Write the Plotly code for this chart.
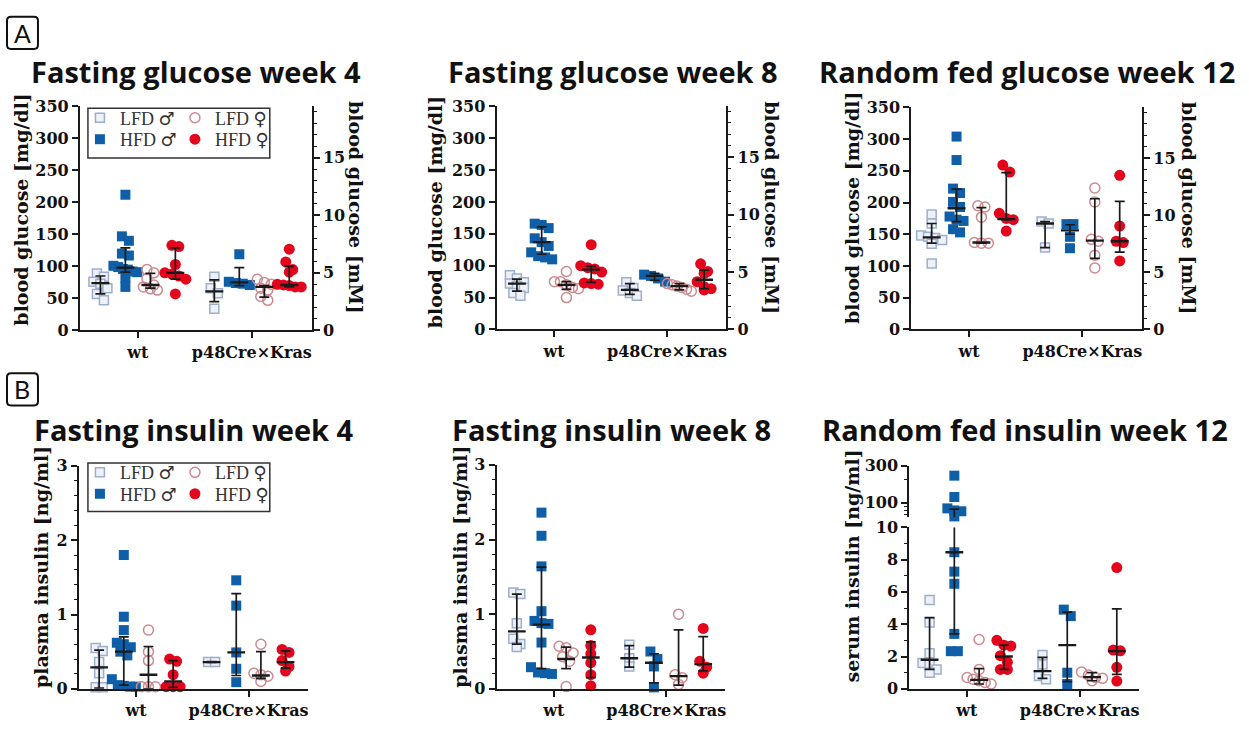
import numpy as np
import plotly.graph_objects as go

W, H = 1249, 731

GENOTYPES = ["wt", "p48Cre×Kras"]
GROUPS = ["LFD ♂", "HFD ♂", "LFD ♀", "HFD ♀"]
MGDL_PER_MM = 18.0

# ---------------- Fasting glucose week 4 [mg/dl] ----------------
glu4_wt_LFDm = [89, 84, 76, 73, 66, 57, 47]
glu4_wt_HFDm = [212, 147, 140, 120, 117, 101, 99, 96, 95, 92, 91, 82, 68]
glu4_wt_LFDf = [95, 90, 81, 71, 68, 65, 63]
glu4_wt_HFDf = [133, 131, 103, 90, 88, 85, 80, 57]
glu4_kc_LFDm = [84, 66, 58, 34]
glu4_kc_HFDm = [119, 76, 74, 73, 71]
glu4_kc_LFDf = [80, 75, 72, 66, 63, 53, 47]
glu4_kc_HFDf = [127, 107, 95, 91, 72, 71, 70, 68, 68]
glu4_mid = [74, 98, 71, 90, 61, 75, 68, 71]
glu4_low = [57, 91, 66, 80, 45, 70, 52, 68]
glu4_high = [85, 129, 89, 129, 79, 98, 70, 100]

# ---------------- Fasting glucose week 8 [mg/dl] ----------------
glu8_wt_LFDm = [85, 80, 74, 72, 68, 65, 57, 53]
glu8_wt_HFDm = [166, 164, 159, 143, 137, 131, 121, 115, 113, 110]
glu8_wt_LFDf = [91, 75, 75, 70, 66, 64, 50]
glu8_wt_HFDf = [133, 100, 97, 95, 90, 73, 72, 71]
glu8_kc_LFDm = [74, 65, 61, 57, 53]
glu8_kc_HFDm = [86, 84, 80, 75]
glu8_kc_LFDf = [72, 70, 68, 66, 63, 60]
glu8_kc_HFDf = [103, 91, 88, 75, 67, 64, 62]
glu8_mid = [72, 137, 70, 94, 62, 84, 68, 78]
glu8_low = [60, 118, 63, 74, 55, 77, 62, 64]
glu8_high = [79, 161, 75, 99, 72, 88, 72, 93]

# ---------------- Random fed glucose week 12 [mg/dl] ----------------
glu12_wt_LFDm = [181, 167, 148, 146, 144, 141, 135, 104]
glu12_wt_HFDm = [304, 267, 222, 215, 201, 193, 178, 173, 171, 158, 153]
glu12_wt_LFDf = [195, 193, 177, 137, 136, 136]
glu12_wt_HFDf = [259, 248, 183, 175, 173, 155]
glu12_kc_LFDm = [170, 167, 129]
glu12_kc_HFDm = [166, 166, 146, 128]
glu12_kc_LFDf = [223, 201, 142, 139, 117, 97]
glu12_kc_HFDf = [243, 163, 139, 137, 108]
glu12_mid = [145, 191, 137, 174, 167, 156, 140, 139]
glu12_low = [136, 170, 136, 173, 129, 150, 112, 122]
glu12_high = [167, 221, 192, 247, 170, 165, 206, 202]

# ---------------- Fasting insulin week 4 [ng/ml] ----------------
ins4_wt_LFDm = [0.55, 0.51, 0.36, 0.21, 0.02, 0.02]
ins4_wt_HFDm = [1.80, 0.97, 0.79, 0.62, 0.60, 0.56, 0.50, 0.45, 0.13, 0.05, 0.04, 0.03, 0.03]
ins4_wt_LFDf = [0.79, 0.50, 0.38, 0.03, 0.03, 0.03]
ins4_wt_HFDf = [0.40, 0.37, 0.19, 0.03, 0.03, 0.03]
ins4_kc_LFDm = [0.36, 0.36]
ins4_kc_HFDm = [1.46, 1.12, 0.49, 0.27, 0.09]
ins4_kc_LFDf = [0.60, 0.21, 0.19, 0.17, 0.10]
ins4_kc_HFDf = [0.53, 0.49, 0.38, 0.30, 0.24]
ins4_mid = [0.29, 0.50, 0.19, 0.10, 0.36, 0.49, 0.18, 0.36]
ins4_low = [0.01, 0.05, 0.00, 0.02, 0.355, 0.18, 0.14, 0.28]
ins4_high = [0.52, 0.70, 0.57, 0.38, 0.365, 1.28, 0.50, 0.51]

# ---------------- Fasting insulin week 8 [ng/ml] ----------------
ins8_wt_LFDm = [1.29, 1.27, 0.88, 0.67, 0.60, 0.56]
ins8_wt_HFDm = [2.36, 2.05, 1.64, 1.04, 0.91, 0.88, 0.87, 0.62, 0.29, 0.22, 0.21, 0.20]
ins8_wt_LFDf = [0.57, 0.55, 0.48, 0.43, 0.37, 0.03]
ins8_wt_HFDf = [0.79, 0.58, 0.47, 0.35, 0.19, 0.04]
ins8_kc_LFDm = [0.59, 0.41, 0.30]
ins8_kc_HFDm = [0.50, 0.40, 0.30, 0.02]
ins8_kc_LFDf = [1.00, 0.19, 0.15, 0.06]
ins8_kc_HFDf = [0.81, 0.37, 0.29, 0.21]
ins8_mid = [0.77, 0.86, 0.40, 0.42, 0.41, 0.35, 0.17, 0.33]
ins8_low = [0.60, 0.27, 0.27, 0.15, 0.29, 0.08, 0.05, 0.24]
ins8_high = [1.27, 1.63, 0.56, 0.63, 0.58, 0.47, 0.79, 0.70]

# ---------------- Random fed insulin week 12 [ng/ml] (broken axis) ----------------
ins12_wt_LFDm = [5.5, 4.1, 2.2, 1.6, 1.5, 1.2, 1.0]
ins12_wt_HFDm = [224, 119, 85, 80, 78, 67, 8.45, 7.25, 6.5, 3.4, 2.33, 2.33]
ins12_wt_LFDf = [3.05, 1.2, 0.7, 0.6, 0.5, 0.4, 0.3]
ins12_wt_HFDf = [3.0, 2.7, 2.65, 2.05, 1.65, 1.2, 1.2]
ins12_kc_LFDm = [2.1, 1.5, 0.8, 0.6]
ins12_kc_HFDm = [4.9, 4.5, 1.0, 0.3]
ins12_kc_LFDf = [1.05, 0.85, 0.7, 0.65, 0.5]
ins12_kc_HFDf = [7.5, 2.4, 2.35, 1.33, 0.48]
ins12_mid = [1.8, 8.45, 0.55, 2.0, 1.1, 2.7, 0.72, 2.33]
ins12_low = [1.2, 3.4, 0.3, 1.2, 0.65, 0.45, 0.5, 0.9]
ins12_high = [4.4, 83, 1.25, 2.7, 1.95, 4.75, 1.0, 4.95]

# ---------------- styling ----------------
SERIF = "DejaVu Serif"
TITLE_FONT = dict(family="Open Sans", size=29, color="#111", weight="bold")
AX_TITLE_FONT = dict(family=SERIF, size=19, color="#111", weight="bold")
TICK_FONT = dict(family=SERIF, size=16, color="#111", weight="bold")
LEG_FONT = dict(family="Liberation Serif", size=18, color="#333")
INK = "#1a1a1a"

STYLE = {
    "LFD ♂": dict(symbol="square", size=9, color="#eef1f8", line=dict(color="#9dafcc", width=1.5)),
    "HFD ♂": dict(symbol="square", size=10, color="#0f5fa8", line=dict(width=0)),
    "LFD ♀": dict(symbol="circle-open", size=10, color="#cc8a8f", line=dict(width=1.5)),
    "HFD ♀": dict(symbol="circle", size=11, color="#e3051b", line=dict(width=0)),
}

GROUP_CENTER = [0.0, 4.56]
SUB_OFFSET = [-1.5, -0.5, 0.5, 1.5]
XRANGE = [-2.32, 6.96]


def fx(p):
    return p / W


def fy(p):
    return 1 - p / H


def legend_label(name):
    diet, sex = name.split(" ")
    return f"{diet} <span style='font-family:DejaVu Sans; font-size:18px'>{sex}</span>"


panels = [
    dict(title="Fasting glucose week 4", tpos=(196, 64), x0=80, x1=312, top=100, bot=330, yr=[0, 350], dtick=50,
         minor=None, right=True, ytitle="blood glucose [mg/dl]", ytpos=(21, 205), rtpos=(357, 204),
         series=[glu4_wt_LFDm, glu4_wt_HFDm, glu4_wt_LFDf, glu4_wt_HFDf,
                 glu4_kc_LFDm, glu4_kc_HFDm, glu4_kc_LFDf, glu4_kc_HFDf],
         mid=glu4_mid, low=glu4_low, high=glu4_high, legend=("legend", "legend2")),
    dict(title="Fasting glucose week 8", tpos=(613, 64), x0=497, x1=727, top=100, bot=329, yr=[0, 350], dtick=50,
         minor=None, right=True, ytitle="blood glucose [mg/dl]", ytpos=(435, 208), rtpos=(773, 204),
         series=[glu8_wt_LFDm, glu8_wt_HFDm, glu8_wt_LFDf, glu8_wt_HFDf,
                 glu8_kc_LFDm, glu8_kc_HFDm, glu8_kc_LFDf, glu8_kc_HFDf],
         mid=glu8_mid, low=glu8_low, high=glu8_high, legend=None),
    dict(title="Random fed glucose week 12", tpos=(1028, 64), x0=912, x1=1143, top=101, bot=329, yr=[0, 350], dtick=50,
         minor=None, right=True, ytitle="blood glucose [mg/dl]", ytpos=(852, 204), rtpos=(1190, 204),
         series=[glu12_wt_LFDm, glu12_wt_HFDm, glu12_wt_LFDf, glu12_wt_HFDf,
                 glu12_kc_LFDm, glu12_kc_HFDm, glu12_kc_LFDf, glu12_kc_HFDf],
         mid=glu12_mid, low=glu12_low, high=glu12_high, legend=None),
    dict(title="Fasting insulin week 4", tpos=(194, 432), x0=79, x1=308, top=469, bot=698, yr=[0, 3], dtick=1,
         minor=0.2, right=False, ytitle="plasma insulin [ng/ml]", ytpos=(41, 573),
         series=[ins4_wt_LFDm, ins4_wt_HFDm, ins4_wt_LFDf, ins4_wt_HFDf,
                 ins4_kc_LFDm, ins4_kc_HFDm, ins4_kc_LFDf, ins4_kc_HFDf],
         mid=ins4_mid, low=ins4_low, high=ins4_high, legend=("legend3", "legend4")),
    dict(title="Fasting insulin week 8", tpos=(612, 432), x0=497, x1=726, top=468, bot=698, yr=[0, 3], dtick=1,
         minor=0.2, right=False, ytitle="plasma insulin [ng/ml]", ytpos=(460, 573),
         series=[ins8_wt_LFDm, ins8_wt_HFDm, ins8_wt_LFDf, ins8_wt_HFDf,
                 ins8_kc_LFDm, ins8_kc_HFDm, ins8_kc_LFDf, ins8_kc_HFDf],
         mid=ins8_mid, low=ins8_low, high=ins8_high, legend=None),
    dict(title="Random fed insulin week 12", tpos=(1026, 432), x0=910, x1=1140, top=532, bot=698, yr=[0, 10], dtick=2,
         minor=1, right=False, ytitle="serum insulin [ng/ml]", ytpos=(853, 572),
         series=[ins12_wt_LFDm, ins12_wt_HFDm, ins12_wt_LFDf, ins12_wt_HFDf,
                 ins12_kc_LFDm, ins12_kc_HFDm, ins12_kc_LFDf, ins12_kc_HFDf],
         mid=ins12_mid, low=ins12_low, high=ins12_high, legend=None,
         upper=dict(top=469, bot=522, yr=[65, 300], ticks=[100, 300], minor=[70, 80, 90, 200])),
]


def swarm(vals, to_pix, row_h=8.0, step=7.0, max_half=12.0):
    """Prism-like row layout: points within one marker height share a row and
    are spread symmetrically around the column centre (offsets in pixels)."""
    order = sorted(range(len(vals)), key=lambda i: -vals[i])
    res = [0.0] * len(vals)
    rows, cur, start = [], [], None
    for i in order:
        yp = to_pix(vals[i])
        if cur and yp - start > row_h:
            rows.append(cur)
            cur = []
        if not cur:
            start = yp
        cur.append(i)
    if cur:
        rows.append(cur)
    for row in rows:
        n = len(row)
        s = step if n < 2 else min(step, 2 * max_half / (n - 1))
        for j, i in enumerate(row):
            res[i] = (j - (n - 1) / 2) * s
    return res


fig = go.Figure()
layout = dict(width=W, height=H, margin=dict(l=0, r=0, t=0, b=0), plot_bgcolor="white",
              paper_bgcolor="white", showlegend=True)
annotations = []
shapes = []

right_ax_id = 7
for pi, p in enumerate(panels, start=1):
    xa, ya = f"x{pi}", f"y{pi}"
    xkey, ykey = f"xaxis{pi}", f"yaxis{pi}"
    px_per_unit = (p["x1"] - p["x0"]) / (XRANGE[1] - XRANGE[0])
    upper = p.get("upper")
    up_id = None

    def lin_pix(v, p=p):
        return p["bot"] - (v - p["yr"][0]) / (p["yr"][1] - p["yr"][0]) * (p["bot"] - p["top"])

    if upper:
        up_id = 10
        lo_log, hi_log = np.log10(upper["yr"][0]), np.log10(upper["yr"][1])

        def to_pix(v, p=p, upper=upper, lo_log=lo_log, hi_log=hi_log):
            if v > p["yr"][1]:
                return upper["bot"] - (np.log10(v) - lo_log) / (hi_log - lo_log) * (upper["bot"] - upper["top"])
            return lin_pix(v)
    else:
        to_pix = lin_pix

    # points
    for gi, gname in enumerate(GROUPS):
        xs_lo, ys_lo, xs_hi, ys_hi = [], [], [], []
        for gti in range(2):
            vals = p["series"][gti * 4 + gi]
            offs = swarm(vals, to_pix)
            xc = GROUP_CENTER[gti] + SUB_OFFSET[gi]
            for v, o in zip(vals, offs):
                if upper and v > p["yr"][1]:
                    xs_hi.append(xc + o / px_per_unit)
                    ys_hi.append(v)
                else:
                    xs_lo.append(xc + o / px_per_unit)
                    ys_lo.append(v)
        st = STYLE[gname]
        leg = None
        show = False
        if p["legend"]:
            leg = p["legend"][0] if gi in (0, 2) else p["legend"][1]
            show = True
        kw = dict(mode="markers", name=legend_label(gname), marker=st, hoverinfo="skip", cliponaxis=False)
        tr = go.Scatter(x=xs_lo, y=ys_lo, xaxis=xa, yaxis=ya, showlegend=show, **kw)
        if leg:
            tr.legend = leg
        fig.add_trace(tr)
        if xs_hi:
            fig.add_trace(go.Scatter(x=xs_hi, y=ys_hi, xaxis=xa, yaxis=f"y{up_id}", showlegend=False, **kw))

    # error bars (whiskers + caps) and centre lines
    cap, half = 0.2, 0.36
    wx, wy, ux, uy, mx, my = [], [], [], [], [], []
    for k in range(8):
        gti, gi = divmod(k, 4)
        xc = GROUP_CENTER[gti] + SUB_OFFSET[gi]
        lo, hi, md = p["low"][k], p["high"][k], p["mid"][k]
        if upper and hi > p["yr"][1]:
            wx += [xc, xc, None, xc - cap, xc + cap, None]
            wy += [lo, p["yr"][1], None, lo, lo, None]
            ux += [xc, xc, None, xc - cap, xc + cap, None]
            uy += [upper["yr"][0], hi, None, hi, hi, None]
        else:
            wx += [xc, xc, None, xc - cap, xc + cap, None, xc - cap, xc + cap, None]
            wy += [lo, hi, None, lo, lo, None, hi, hi, None]
        mx += [xc - half, xc + half, None]
        my += [md, md, None]
    fig.add_trace(go.Scatter(x=wx, y=wy, xaxis=xa, yaxis=ya, mode="lines", line=dict(color=INK, width=1.7),
                             showlegend=False, hoverinfo="skip", cliponaxis=False))
    fig.add_trace(go.Scatter(x=mx, y=my, xaxis=xa, yaxis=ya, mode="lines", line=dict(color=INK, width=2.3),
                             showlegend=False, hoverinfo="skip", cliponaxis=False))
    if ux:
        fig.add_trace(go.Scatter(x=ux, y=uy, xaxis=xa, yaxis=f"y{up_id}", mode="lines",
                                 line=dict(color=INK, width=1.7), showlegend=False, hoverinfo="skip",
                                 cliponaxis=False))

    # axes
    layout[xkey] = dict(domain=[fx(p["x0"]), fx(p["x1"])], anchor=ya, range=XRANGE, showgrid=False,
                        zeroline=False, showline=True, linecolor=INK, linewidth=2, ticks="outside",
                        ticklen=6, tickwidth=1.6, tickcolor=INK, tickvals=GROUP_CENTER, ticktext=GENOTYPES,
                        tickfont=TICK_FONT, fixedrange=True)
    yax = dict(domain=[fy(p["bot"]), fy(p["top"])], anchor=xa, range=p["yr"], showgrid=False, zeroline=False,
               showline=True, linecolor=INK, linewidth=2, ticks="outside", ticklen=6, tickwidth=1.6,
               tickcolor=INK, dtick=p["dtick"], tick0=0, tickfont=TICK_FONT, fixedrange=True)
    if p["minor"]:
        yax["minor"] = dict(dtick=p["minor"], ticks="outside", ticklen=3, tickwidth=1.2, tickcolor=INK)
    layout[ykey] = yax

    if upper:
        layout[f"yaxis{up_id}"] = dict(domain=[fy(upper["bot"]), fy(upper["top"])], anchor=xa, type="log",
                                       range=[np.log10(upper["yr"][0]), np.log10(upper["yr"][1])],
                                       showgrid=False, zeroline=False, showline=True, linecolor=INK,
                                       linewidth=2, ticks="outside", ticklen=6, tickwidth=1.6, tickcolor=INK,
                                       tickvals=upper["ticks"], ticktext=[str(t) for t in upper["ticks"]],
                                       tickfont=TICK_FONT, fixedrange=True,
                                       minor=dict(tickvals=upper["minor"], ticks="outside", ticklen=3,
                                                  tickwidth=1.2, tickcolor=INK))

    if p["right"]:
        rid = right_ax_id
        right_ax_id += 1
        layout[f"yaxis{rid}"] = dict(overlaying=ya, side="right", anchor=xa,
                                     range=[p["yr"][0] / MGDL_PER_MM, p["yr"][1] / MGDL_PER_MM],
                                     showgrid=False, zeroline=False, showline=True, linecolor=INK, linewidth=2,
                                     ticks="outside", ticklen=6, tickwidth=1.6, tickcolor=INK, dtick=5, tick0=0,
                                     tickfont=TICK_FONT, fixedrange=True,
                                     minor=dict(dtick=1, ticks="outside", ticklen=3, tickwidth=1.2, tickcolor=INK))
        fig.add_trace(go.Scatter(x=[None], y=[None], xaxis=xa, yaxis=f"y{rid}", showlegend=False,
                                 hoverinfo="skip"))
        annotations.append(dict(text="blood glucose [mM]", x=fx(p["rtpos"][0]), y=fy(p["rtpos"][1]),
                                xref="paper", yref="paper", textangle=90, showarrow=False, font=AX_TITLE_FONT,
                                xanchor="center", yanchor="middle"))

    annotations.append(dict(text=p["title"], x=fx(p["tpos"][0]), y=fy(p["tpos"][1]), xref="paper", yref="paper",
                            showarrow=False, font=TITLE_FONT, xanchor="center", yanchor="middle"))
    annotations.append(dict(text=p["ytitle"], x=fx(p["ytpos"][0]), y=fy(p["ytpos"][1]), xref="paper",
                            yref="paper", textangle=-90, showarrow=False, font=AX_TITLE_FONT,
                            xanchor="center", yanchor="middle"))

# legends (two rows per boxed legend)
for name, (lx, ly) in {"legend": (80, 112), "legend2": (80, 134), "legend3": (80, 476), "legend4": (80, 498)}.items():
    layout[name] = dict(orientation="h", x=fx(lx), y=fy(ly), xanchor="left", yanchor="middle",
                        xref="paper", yref="paper", entrywidth=50, entrywidthmode="pixels",
                        bgcolor="rgba(0,0,0,0)", borderwidth=0, font=LEG_FONT, itemclick=False,
                        itemdoubleclick=False)
for (x0, y0, x1, y1) in [(88, 102, 270, 153), (88, 466, 270, 516)]:
    shapes.append(dict(type="rect", xref="paper", yref="paper", x0=fx(x0), x1=fx(x1), y0=fy(y1), y1=fy(y0),
                       line=dict(color="#333", width=1.5), fillcolor="rgba(0,0,0,0)", layer="below"))


# panel letters in rounded boxes
def rounded(x0, y0, x1, y1, r=4):
    X = lambda v: fx(v)
    Y = lambda v: fy(v)
    return (f"M {X(x0 + r)} {Y(y0)} L {X(x1 - r)} {Y(y0)} Q {X(x1)} {Y(y0)} {X(x1)} {Y(y0 + r)} "
            f"L {X(x1)} {Y(y1 - r)} Q {X(x1)} {Y(y1)} {X(x1 - r)} {Y(y1)} L {X(x0 + r)} {Y(y1)} "
            f"Q {X(x0)} {Y(y1)} {X(x0)} {Y(y1 - r)} L {X(x0)} {Y(y0 + r)} Q {X(x0)} {Y(y0)} {X(x0 + r)} {Y(y0)} Z")


for letter, (x0, y0, x1, y1) in {"A": (7, 8, 38, 41), "B": (7, 374, 38, 407)}.items():
    shapes.append(dict(type="path", xref="paper", yref="paper", path=rounded(x0, y0, x1, y1),
                       line=dict(color="#111", width=2)))
    annotations.append(dict(text=letter, x=fx((x0 + x1) / 2), y=fy((y0 + y1) / 2), xref="paper", yref="paper",
                            showarrow=False, font=dict(family="Lato", size=25, color="#111"),
                            xanchor="center", yanchor="middle"))

layout["annotations"] = annotations
layout["shapes"] = shapes
fig.update_layout(**layout)
fig.write_html("out.html")
